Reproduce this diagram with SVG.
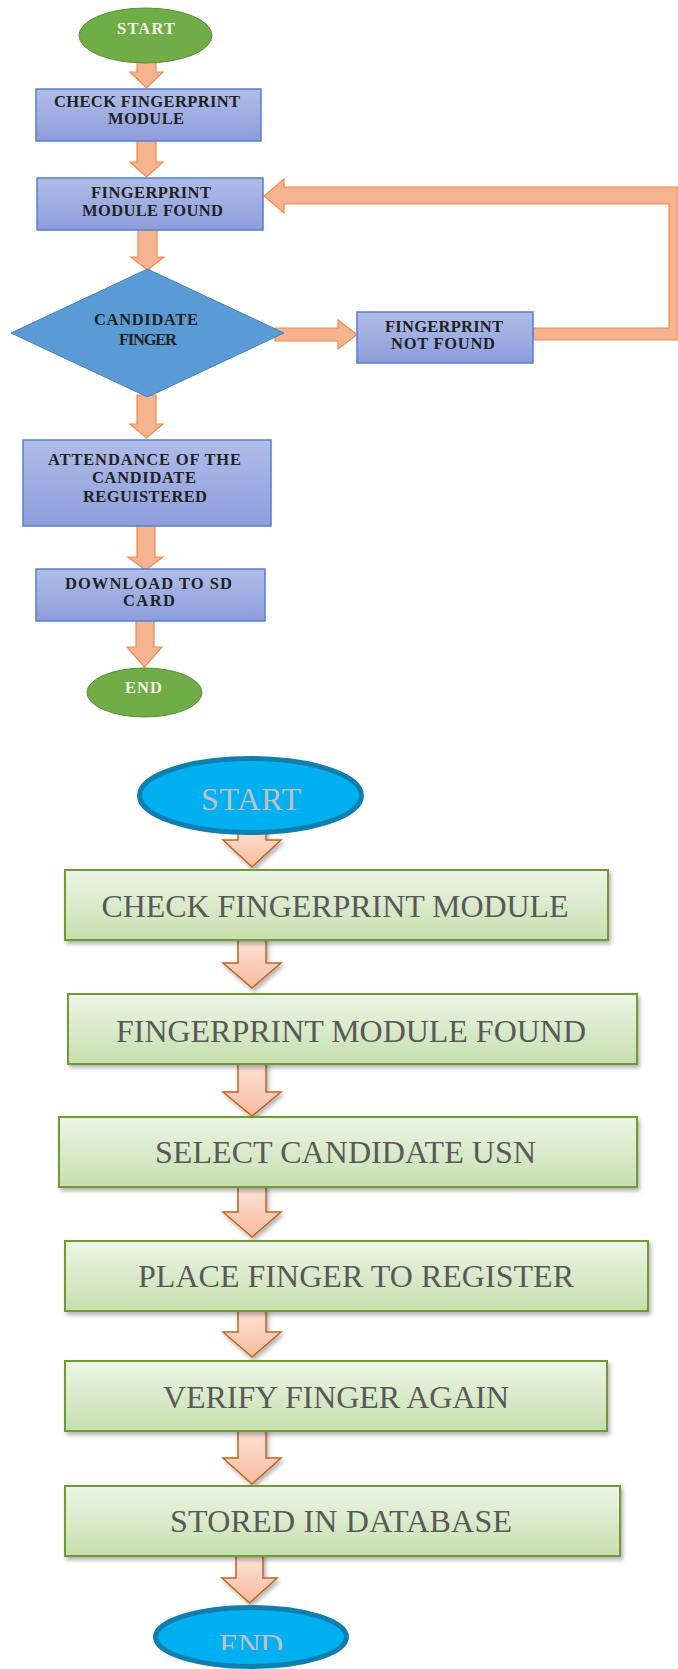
<svg xmlns="http://www.w3.org/2000/svg" width="678" height="1669" viewBox="0 0 678 1669">
<style>
.tb{font-family:"Liberation Serif","Times New Roman",serif;font-weight:bold;font-size:16.5px;fill:#222222;text-anchor:middle}
.tw{font-family:"Liberation Serif","Times New Roman",serif;font-weight:bold;font-size:16.5px;fill:#f2f2e6;text-anchor:middle}
.bt{font-family:"Liberation Serif","Times New Roman",serif;font-size:32px;fill:#595959;text-anchor:middle}
.bs{font-family:"Liberation Serif","Times New Roman",serif;font-size:32px;fill:#c0c0c0;text-anchor:middle}
.bluebox{fill:url(#gBlue);stroke:#5580cc;stroke-width:1.5}
.greenbox{fill:url(#gGreen);stroke:#6f9a35;stroke-width:2;filter:url(#sh)}
.oarrow{fill:#f5b390;stroke:#ef8b4e;stroke-width:1.2}
.parrow{fill:url(#gPeach);stroke:#c0661f;stroke-width:1.5;filter:url(#sh)}
.gell{fill:#70ad47;stroke:#5b8e3b;stroke-width:1}
.bell{fill:#00b0f0;stroke:#117fae;stroke-width:5}
</style>
<defs>
<linearGradient id="gBlue" x1="0" y1="0" x2="0" y2="1"><stop offset="0" stop-color="#b0bde9"/><stop offset="1" stop-color="#8c9ddb"/></linearGradient>
<linearGradient id="gGreen" x1="0" y1="0" x2="0" y2="1"><stop offset="0" stop-color="#edf5e6"/><stop offset="1" stop-color="#c6dfae"/></linearGradient>
<linearGradient id="gPeach" x1="0" y1="0" x2="0" y2="1"><stop offset="0" stop-color="#fde4da"/><stop offset="1" stop-color="#f8bb9d"/></linearGradient>
<filter id="sh" x="-10%" y="-10%" width="120%" height="140%"><feDropShadow dx="2" dy="3" stdDeviation="2" flood-color="#000" flood-opacity="0.3"/></filter>
<clipPath id="endClip"><rect x="190" y="1600" width="130" height="50"/></clipPath>
</defs>

<g id="connectors">
<polygon class="oarrow" points="137,60 156,60 156,72 163,72 146.5,88 130,72 137,72"/>
<polygon class="oarrow" points="137,140 156,140 156,162 163,162 146.5,177 130,162 137,162"/>
<polygon class="oarrow" points="138,229 157,229 157,257 164,257 147.5,270 131,257 138,257"/>
<polygon class="oarrow" points="275,328 338,328 338,320 357,334.5 338,349 338,341 275,341"/>
<polygon class="oarrow" points="533,328 669,328 669,204 284,204 284,213 264,196 284,179 284,187 678,187 678,340 533,340"/>
<polygon class="oarrow" points="137,395 156,395 156,424 163,424 146.5,438 130,424 137,424"/>
<polygon class="oarrow" points="137,525 155,525 155,557 163,557 145.5,570 128,557 137,557"/>
<polygon class="oarrow" points="136,620 154,620 154,647 162,647 144.5,667 127,647 136,647"/>

<polygon class="parrow" points="238,825 266,825 266,840 281,840 252,867 223,840 238,840"/>
<polygon class="parrow" points="238,938 266,938 266,963 281,963 252,988 223,963 238,963"/>
<polygon class="parrow" points="238,1062 266,1062 266,1092 281,1092 252,1116 223,1092 238,1092"/>
<polygon class="parrow" points="238,1185 266,1185 266,1212 281,1212 252,1237 223,1212 238,1212"/>
<polygon class="parrow" points="238,1309 266,1309 266,1332 281,1332 252,1357 223,1332 238,1332"/>
<polygon class="parrow" points="238,1429 266,1429 266,1458 281,1458 252,1484 223,1458 238,1458"/>
<polygon class="parrow" points="236,1554 263,1554 263,1578 277,1578 249.5,1603 222,1578 236,1578"/>
</g>

<g id="n_start1"><ellipse class="gell" cx="145.5" cy="35.5" rx="66.5" ry="27.5"/><text class="tw" x="146" y="34" textLength="58">START</text></g>
<g id="n_check1"><rect class="bluebox" x="36" y="89" width="225" height="52"/><text class="tb" x="147" y="107" textLength="186">CHECK FINGERPRINT</text><text class="tb" x="146" y="124" textLength="76">MODULE</text></g>
<g id="n_found1"><rect class="bluebox" x="37" y="178" width="226" height="52"/><text class="tb" x="151" y="198" textLength="120">FINGERPRINT</text><text class="tb" x="152.5" y="216" textLength="141">MODULE  FOUND</text></g>
<g id="n_diamond"><polygon points="147.5,269 284,333 147.5,397 11,333" fill="#5b9bd5" stroke="#4a80b8" stroke-width="1"/><text class="tb" x="146" y="325" textLength="104">CANDIDATE</text><text class="tb" x="148" y="345" textLength="58">FINGER</text></g>
<g id="n_notfound"><rect class="bluebox" x="357" y="312" width="176" height="51"/><text class="tb" x="444" y="332" textLength="118">FINGERPRINT</text><text class="tb" x="443" y="349" textLength="104">NOT FOUND</text></g>
<g id="n_attend"><rect class="bluebox" x="23" y="440" width="248" height="86"/><text class="tb" x="144.5" y="465" textLength="193">ATTENDANCE  OF THE</text><text class="tb" x="144" y="483" textLength="104">CANDIDATE</text><text class="tb" x="145" y="502" textLength="124">REGUISTERED</text></g>
<g id="n_download"><rect class="bluebox" x="36" y="569" width="229" height="52"/><text class="tb" x="148.5" y="589" textLength="167">DOWNLOAD  TO  SD</text><text class="tb" x="149" y="606" textLength="52">CARD</text></g>
<g id="n_end1"><ellipse class="gell" cx="144.5" cy="692.5" rx="57.5" ry="24.5"/><text class="tw" x="143.5" y="693" textLength="37">END</text></g>

<g id="n_start2"><ellipse class="bell" cx="250.5" cy="795.5" rx="111" ry="37"/><text class="bs" x="251" y="810" textLength="100">START</text></g>
<g id="n_check2"><rect class="greenbox" x="65" y="870" width="543" height="70"/><text class="bt" x="335" y="917" textLength="467">CHECK FINGERPRINT MODULE</text></g>
<g id="n_found2"><rect class="greenbox" x="68" y="994" width="569" height="70"/><text class="bt" x="351" y="1042" textLength="470">FINGERPRINT MODULE FOUND</text></g>
<g id="n_select"><rect class="greenbox" x="59" y="1117" width="578" height="70"/><text class="bt" x="345.5" y="1163" textLength="381">SELECT CANDIDATE USN</text></g>
<g id="n_place"><rect class="greenbox" x="65" y="1241" width="583" height="70"/><text class="bt" x="356" y="1287" textLength="436">PLACE FINGER TO REGISTER</text></g>
<g id="n_verify"><rect class="greenbox" x="65" y="1361" width="542" height="70"/><text class="bt" x="336" y="1408" textLength="346">VERIFY FINGER AGAIN</text></g>
<g id="n_stored"><rect class="greenbox" x="65" y="1486" width="555" height="70"/><text class="bt" x="341" y="1532" textLength="342">STORED IN DATABASE</text></g>
<g id="n_end2"><ellipse class="bell" cx="251" cy="1637" rx="95.5" ry="29.5"/><text class="bs" x="251" y="1656" textLength="64" clip-path="url(#endClip)">END</text></g>
</svg>
